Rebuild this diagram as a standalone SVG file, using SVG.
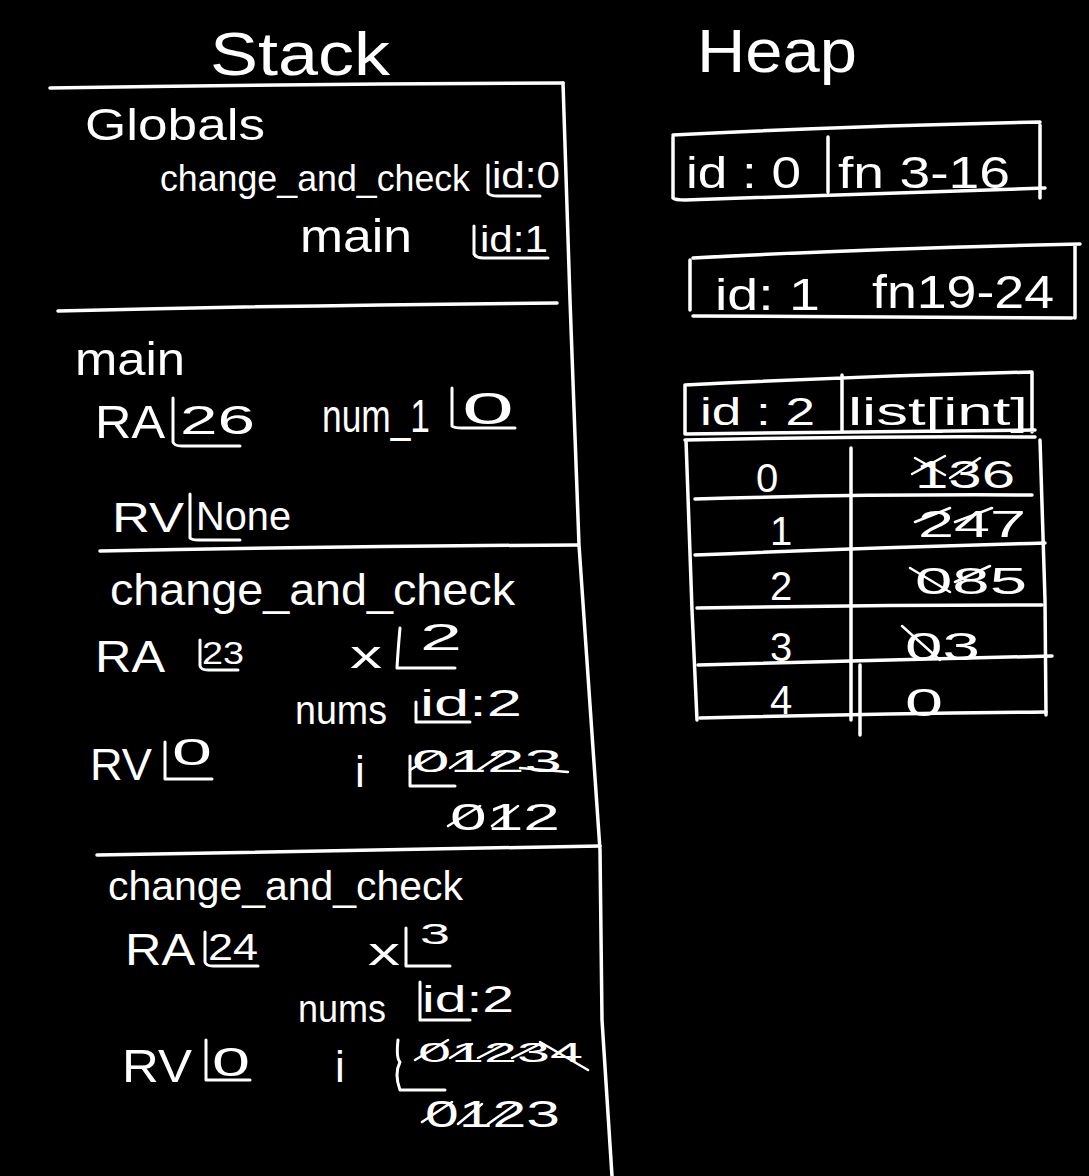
<svg xmlns="http://www.w3.org/2000/svg" width="1089" height="1176" viewBox="0 0 1089 1176">
<style>
text{fill:#fff;font-family:"Liberation Sans","DejaVu Sans",sans-serif;font-weight:normal}
.ln{fill:none;stroke:#fff;stroke-width:3.5;stroke-linecap:round;stroke-linejoin:round}
.bk{fill:none;stroke:#fff;stroke-width:3;stroke-linecap:round;stroke-linejoin:round}
.st{fill:none;stroke:#fff;stroke-width:2.5;stroke-linecap:round}
</style>
<rect width="1089" height="1176" fill="#000"/>
<g id="titles">
<text x="210" y="75" font-size="62" textLength="180" lengthAdjust="spacingAndGlyphs">Stack</text>
<text x="697" y="72" font-size="62" textLength="160" lengthAdjust="spacingAndGlyphs">Heap</text>
</g>
<g id="connectors">
<path class="ln" d="M50 88 Q300 84 563 83"/>
<path class="ln" d="M563 83 L570 300 L579 545 L600 850 L602 1020 L612 1176"/>
<path class="ln" d="M58 311 Q300 305 557 303"/>
<path class="ln" d="M100 551 Q340 546 578 545"/>
<path class="ln" d="M97 855 Q350 850 600 846"/>
</g>
<g id="frame-globals">
<text x="85" y="140" font-size="44" textLength="180" lengthAdjust="spacingAndGlyphs">Globals</text>
<text x="160" y="191" font-size="37" textLength="310" lengthAdjust="spacingAndGlyphs">change_and_check</text>
<path class="bk" d="M488 165 V193 Q490 196 498 196 H540"/>
<text x="492" y="188" font-size="36" textLength="68" lengthAdjust="spacingAndGlyphs">id:0</text>
<text x="300" y="252" font-size="46" textLength="112" lengthAdjust="spacingAndGlyphs">main</text>
<path class="bk" d="M474 226 V254 Q476 258 484 258 H548"/>
<text x="480" y="252" font-size="36" textLength="68" lengthAdjust="spacingAndGlyphs">id:1</text>
</g>
<g id="frame-main">
<text x="75" y="375" font-size="46" textLength="110" lengthAdjust="spacingAndGlyphs">main</text>
<text x="95" y="438" font-size="46" textLength="70" lengthAdjust="spacingAndGlyphs">RA</text>
<path class="bk" d="M173 398 V442 Q174 446 182 446 H240"/>
<text x="180" y="434" font-size="40" textLength="75" lengthAdjust="spacingAndGlyphs">26</text>
<text x="322" y="432" font-size="46" textLength="108" lengthAdjust="spacingAndGlyphs">num_1</text>
<path class="bk" d="M452 388 V426 Q454 428 462 428 H515"/>
<text x="462" y="424" font-size="44" textLength="52" lengthAdjust="spacingAndGlyphs">0</text>
<text x="112" y="532" font-size="42" textLength="72" lengthAdjust="spacingAndGlyphs">RV</text>
<path class="bk" d="M190 494 V538 Q192 540 198 540 H240"/>
<text x="196" y="530" font-size="40" textLength="95" lengthAdjust="spacingAndGlyphs">None</text>
</g>
<g id="frame-change1">
<text x="110" y="605" font-size="44" textLength="405" lengthAdjust="spacingAndGlyphs">change_and_check</text>
<text x="95" y="672" font-size="44" textLength="70" lengthAdjust="spacingAndGlyphs">RA</text>
<path class="bk" d="M200 640 V666 Q201 670 208 670 H238"/>
<text x="202" y="664" font-size="32" textLength="42" lengthAdjust="spacingAndGlyphs">23</text>
<text x="350" y="668" font-size="38" textLength="32" lengthAdjust="spacingAndGlyphs">x</text>
<path class="bk" d="M400 628 Q398 650 397 668 H455"/>
<text x="420" y="650" font-size="36" textLength="42" lengthAdjust="spacingAndGlyphs">2</text>
<text x="295" y="724" font-size="40" textLength="92" lengthAdjust="spacingAndGlyphs">nums</text>
<path class="bk" d="M416 702 V722 H470"/>
<text x="420" y="716" font-size="36" textLength="102" lengthAdjust="spacingAndGlyphs">id:2</text>
<text x="90" y="780" font-size="44" textLength="62" lengthAdjust="spacingAndGlyphs">RV</text>
<path class="bk" d="M165 742 V779 H212"/>
<text x="172" y="765" font-size="36" textLength="40" lengthAdjust="spacingAndGlyphs">0</text>
<text x="355" y="787" font-size="44">i</text>
<path class="bk" d="M410 756 V786 H455"/>
<text x="412" y="772" font-size="32" textLength="150" lengthAdjust="spacingAndGlyphs">0123</text>
<path class="st" d="M410 770 L440 752 M450 768 L470 754 M478 770 L505 752 M520 768 L568 772"/>
<text x="450" y="830" font-size="36" textLength="110" lengthAdjust="spacingAndGlyphs">012</text>
<path class="st" d="M448 826 L480 806 M492 826 L518 806"/>
</g>
<g id="frame-change2">
<text x="108" y="900" font-size="40" textLength="355" lengthAdjust="spacingAndGlyphs">change_and_check</text>
<text x="125" y="965" font-size="44" textLength="70" lengthAdjust="spacingAndGlyphs">RA</text>
<path class="bk" d="M205 932 V962 Q206 966 213 966 H258"/>
<text x="208" y="960" font-size="36" textLength="50" lengthAdjust="spacingAndGlyphs">24</text>
<text x="368" y="965" font-size="38" textLength="32" lengthAdjust="spacingAndGlyphs">x</text>
<path class="bk" d="M406 928 V966 H450"/>
<text x="420" y="944" font-size="30" textLength="30" lengthAdjust="spacingAndGlyphs">3</text>
<text x="298" y="1022" font-size="38" textLength="88" lengthAdjust="spacingAndGlyphs">nums</text>
<path class="bk" d="M420 982 V1020 H470"/>
<text x="422" y="1012" font-size="36" textLength="92" lengthAdjust="spacingAndGlyphs">id:2</text>
<text x="122" y="1082" font-size="46" textLength="70" lengthAdjust="spacingAndGlyphs">RV</text>
<path class="bk" d="M206 1040 V1080 H250"/>
<text x="212" y="1076" font-size="40" textLength="38" lengthAdjust="spacingAndGlyphs">0</text>
<text x="335" y="1082" font-size="44">i</text>
<path class="bk" d="M398 1040 Q396 1058 400 1062 Q394 1074 400 1090 H445"/>
<text x="418" y="1062" font-size="28" textLength="165" lengthAdjust="spacingAndGlyphs">01234</text>
<path class="st" d="M415 1060 L448 1040 M450 1058 L472 1044 M478 1058 L505 1044 M512 1058 L540 1044 M540 1042 L588 1070"/>
<text x="425" y="1127" font-size="36" textLength="135" lengthAdjust="spacingAndGlyphs">0123</text>
<path class="st" d="M422 1122 L452 1102 M458 1124 L482 1104 M488 1124 L516 1104"/>
</g>
<g id="heap-id0">
<path class="ln" d="M673 135 Q850 126 1040 122 M673 137 V198 Q675 200 685 200 Q860 194 1045 188 M1040 125 V198 M828 137 V192"/>
<text x="686" y="188" font-size="44" textLength="115" lengthAdjust="spacingAndGlyphs">id : 0</text>
<text x="838" y="188" font-size="44" textLength="172" lengthAdjust="spacingAndGlyphs">fn 3-16</text>
</g>
<g id="heap-id1">
<path class="ln" d="M693 258 Q880 248 1080 244 M690 260 V310 M693 316 Q880 317 1072 318 M1075 245 V318"/>
<text x="715" y="310" font-size="44" textLength="105" lengthAdjust="spacingAndGlyphs">id: 1</text>
<text x="872" y="308" font-size="46" textLength="182" lengthAdjust="spacingAndGlyphs">fn19-24</text>
</g>
<g id="heap-id2">
<path class="ln" d="M685 385 Q860 376 1032 372 M685 385 V434 Q860 432 1035 430 M1032 372 V432 M842 375 V430"/>
<text x="700" y="425" font-size="38" textLength="115" lengthAdjust="spacingAndGlyphs">id : 2</text>
<text x="848" y="425" font-size="38" textLength="180" lengthAdjust="spacingAndGlyphs">list[int]</text>
<path class="ln" d="M685 440 Q860 436 1035 437 M686 440 L692 610 L697 720 M1040 440 L1045 600 L1046 715 M851 448 V720 M860 665 V735"/>
<path class="ln" d="M695 499 Q860 494 1032 495 M695 555 Q860 548 1045 543 M697 608 Q870 605 1042 605 M698 665 Q870 660 1052 656 M700 718 Q870 714 1046 712"/>
<text x="756" y="492" font-size="40">0</text>
<text x="770" y="545" font-size="40">1</text>
<text x="770" y="600" font-size="40">2</text>
<text x="770" y="661" font-size="40">3</text>
<text x="770" y="714" font-size="40">4</text>
<text x="915" y="488" font-size="38" textLength="100" lengthAdjust="spacingAndGlyphs">136</text>
<path class="st" d="M912 474 L945 456 M915 458 L945 475 M950 478 L980 458"/>
<text x="918" y="537" font-size="36" textLength="108" lengthAdjust="spacingAndGlyphs">247</text>
<path class="st" d="M915 522 L950 508 M955 522 L992 508"/>
<text x="915" y="594" font-size="36" textLength="112" lengthAdjust="spacingAndGlyphs">085</text>
<path class="st" d="M910 568 L950 592 M955 582 L990 566"/>
<text x="905" y="660" font-size="38" textLength="75" lengthAdjust="spacingAndGlyphs">03</text>
<path class="st" d="M902 626 L940 660"/>
<text x="905" y="716" font-size="38" textLength="38" lengthAdjust="spacingAndGlyphs">0</text>
</g>
</svg>
